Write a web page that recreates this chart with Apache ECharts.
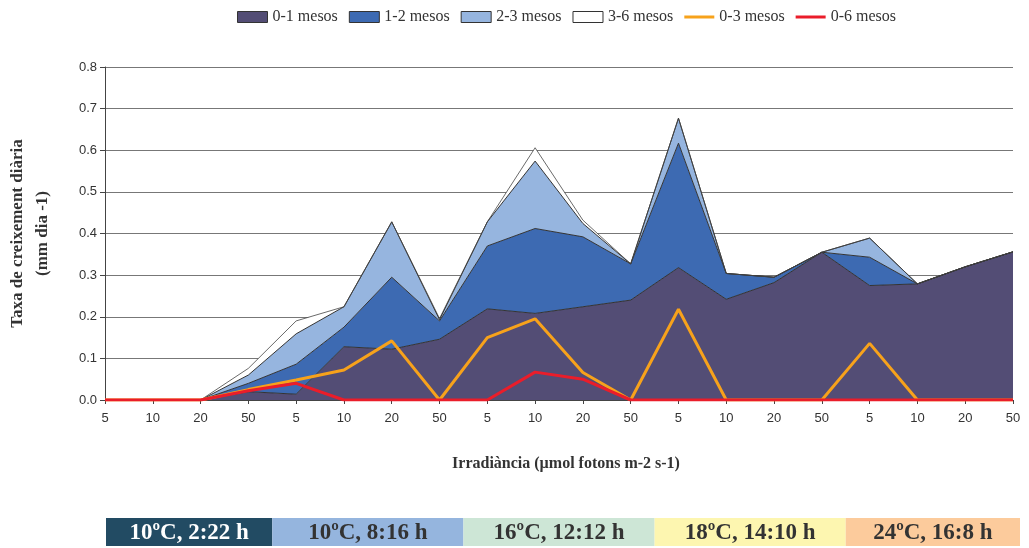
<!DOCTYPE html>
<html>
<head>
<meta charset="utf-8">
<script src="https://cdn.jsdelivr.net/npm/echarts@6/dist/echarts.min.js"></script>
<style>
  html, body { margin: 0; padding: 0; background: #ffffff; }
  #chart { width: 1029px; height: 548px; }
</style>
</head>
<body>
<div id="chart"></div>
<script>
// Irradiance levels (µmol fotons m-2 s-1), repeated for each temperature / photoperiod block
const irradiancia = ['5','10','20','50','5','10','20','50','5','10','20','50','5','10','20','50','5','10','20','50'];

// Stacked growth-rate contributions (mm dia -1) by age class
const mesos01 = [0, 0, 0, 0.020, 0.014, 0.128, 0.122, 0.146, 0.219, 0.208, 0.224, 0.240, 0.318, 0.242, 0.282, 0.355, 0.275, 0.279, 0.320, 0.356];
const mesos12 = [0, 0, 0, 0.020, 0.072, 0.047, 0.173, 0.044, 0.151, 0.204, 0.168, 0.087, 0.299, 0.062, 0.013, 0, 0.068, 0, 0, 0];
const mesos23 = [0, 0, 0, 0.020, 0.073, 0.049, 0.133, 0.003, 0.058, 0.162, 0.032, 0, 0.060, 0, 0, 0, 0.046, 0, 0, 0];
const mesos36 = [0, 0, 0, 0.016, 0.031, 0, 0, 0.003, 0, 0.032, 0.008, 0, 0, 0, 0, 0, 0, 0, 0, 0];

// Growth-rate lines (not stacked)
const mesos03 = [0, 0, 0, 0.025, 0.048, 0.072, 0.142, 0, 0.150, 0.195, 0.066, 0, 0.218, 0, 0, 0, 0.136, 0, 0, 0];
const mesos06 = [0, 0, 0, 0.022, 0.040, 0, 0, 0, 0, 0.067, 0.050, 0, 0, 0, 0, 0, 0, 0, 0, 0];

// Experimental conditions shown under the axis
const condicions = ['10ºC, 2:22 h', '10ºC, 8:16 h', '16ºC, 12:12 h', '18ºC, 14:10 h', '24ºC, 16:8 h'];
const condicionsColors = ['#224b63', '#95b5de', '#cde6d6', '#fdf6b0', '#fccb9c'];
const condicionsText = ['#ffffff', '#333333', '#333333', '#333333', '#333333'];
// index of the last category in each block
const blockEnds = [3, 7, 11, 15, 19];

const serif = 'Liberation Serif';
const sans = 'Liberation Sans';

function areaSeries(name, data, fill, lineColor, lineWidth) {
  return {
    name: name,
    type: 'line',
    stack: 'total',
    data: data,
    symbol: 'none',
    smooth: false,
    itemStyle: { color: fill, borderColor: '#333', borderWidth: 1 },
    lineStyle: { color: lineColor, width: lineWidth },
    areaStyle: { color: fill, opacity: 1 },
    emphasis: { disabled: true },
    z: 2
  };
}

function lineSeries(name, data, color, z) {
  return {
    name: name,
    type: 'line',
    data: data,
    symbol: 'none',
    itemStyle: { color: color },
    lineStyle: { color: color, width: 3 },
    emphasis: { disabled: true },
    z: z
  };
}

const chart = echarts.init(document.getElementById('chart'), null, { renderer: 'canvas' });

const lineIcon = 'path://M0,0H30V3H0Z';

chart.setOption({
  animation: false,
  backgroundColor: '#ffffff',
  legend: {
    top: 4,
    left: 232,
    itemWidth: 30,
    itemHeight: 11,
    itemGap: 11,
    textStyle: { fontFamily: serif, fontSize: 16, color: '#333' },
    data: [
      { name: '0-1 mesos', icon: 'rect', itemStyle: { borderColor: '#333', borderWidth: 1 } },
      { name: '1-2 mesos', icon: 'rect', itemStyle: { borderColor: '#333', borderWidth: 1 } },
      { name: '2-3 mesos', icon: 'rect', itemStyle: { borderColor: '#333', borderWidth: 1 } },
      { name: '3-6 mesos', icon: 'rect', itemStyle: { borderColor: '#333', borderWidth: 1 } },
      { name: '0-3 mesos', icon: lineIcon },
      { name: '0-6 mesos', icon: lineIcon }
    ]
  },
  grid: { left: 105, right: 16, top: 67, bottom: 148, containLabel: false, outerBoundsMode: 'none' },
  xAxis: {
    type: 'category',
    data: irradiancia,
    boundaryGap: false,
    name: 'Irradiància (µmol fotons m-2 s-1)',
    nameLocation: 'middle',
    nameGap: 56,
    nameTextStyle: { fontFamily: serif, fontWeight: 'bold', fontSize: 16, color: '#333', padding: [0, 0, 0, 14] },
    axisLine: { lineStyle: { color: '#444', width: 1 } },
    axisTick: { show: true, length: 4, lineStyle: { color: '#444' } },
    axisLabel: { fontFamily: sans, fontSize: 13, color: '#333', margin: 12, interval: 0 },
    splitLine: { show: false }
  },
  yAxis: {
    type: 'value',
    min: 0,
    max: 0.8,
    interval: 0.1,
    name: 'Taxa de creixement diària\n(mm dia -1)',
    nameLocation: 'middle',
    nameRotate: 90,
    nameGap: 50,
    nameTextStyle: { fontFamily: serif, fontWeight: 'bold', fontSize: 17, lineHeight: 25, color: '#333', padding: [0, 0, 0, 0] },
    axisLine: { show: true, lineStyle: { color: '#444', width: 1 } },
    axisTick: { show: true, length: 5, lineStyle: { color: '#444' } },
    axisLabel: { fontFamily: sans, fontSize: 13, color: '#333', margin: 8, formatter: v => v.toFixed(1) },
    splitLine: { show: true, lineStyle: { color: '#777', width: 1 } }
  },
  series: [
    areaSeries('0-1 mesos', mesos01, '#534d75', '#333333', 1),
    areaSeries('1-2 mesos', mesos12, '#3d6ab2', '#333333', 1),
    areaSeries('2-3 mesos', mesos23, '#96b5df', '#333333', 1),
    areaSeries('3-6 mesos', mesos36, '#ffffff', '#444444', 0.8),
    lineSeries('0-3 mesos', mesos03, '#f7a21b', 5),
    lineSeries('0-6 mesos', mesos06, '#ea1d2a', 6)
  ]
});

// Condition bands under the axis, aligned to the category blocks
function drawBands() {
  const px = i => chart.convertToPixel({ xAxisIndex: 0 }, i);
  const step = px(1) - px(0);
  const edges = [px(0) + 1];
  blockEnds.forEach((e, k) => {
    if (k < blockEnds.length - 1) edges.push(px(e) + step / 2);
    else edges.push(px(e) + 7);
  });
  const top = 518, h = 28;
  const elements = [];
  condicions.forEach((label, k) => {
    const x0 = edges[k], x1 = edges[k + 1];
    elements.push({
      type: 'rect',
      shape: { x: x0, y: top, width: x1 - x0, height: h },
      style: { fill: condicionsColors[k] },
      silent: true
    });
    elements.push({
      type: 'text',
      x: (x0 + x1) / 2,
      y: top + h / 2 + 1,
      style: {
        text: label,
        fontFamily: serif,
        fontWeight: 'bold',
        fontSize: 23,
        fill: condicionsText[k],
        align: 'center',
        verticalAlign: 'middle'
      },
      silent: true
    });
  });
  chart.setOption({ graphic: { elements: elements } });
}
drawBands();
</script>
</body>
</html>
